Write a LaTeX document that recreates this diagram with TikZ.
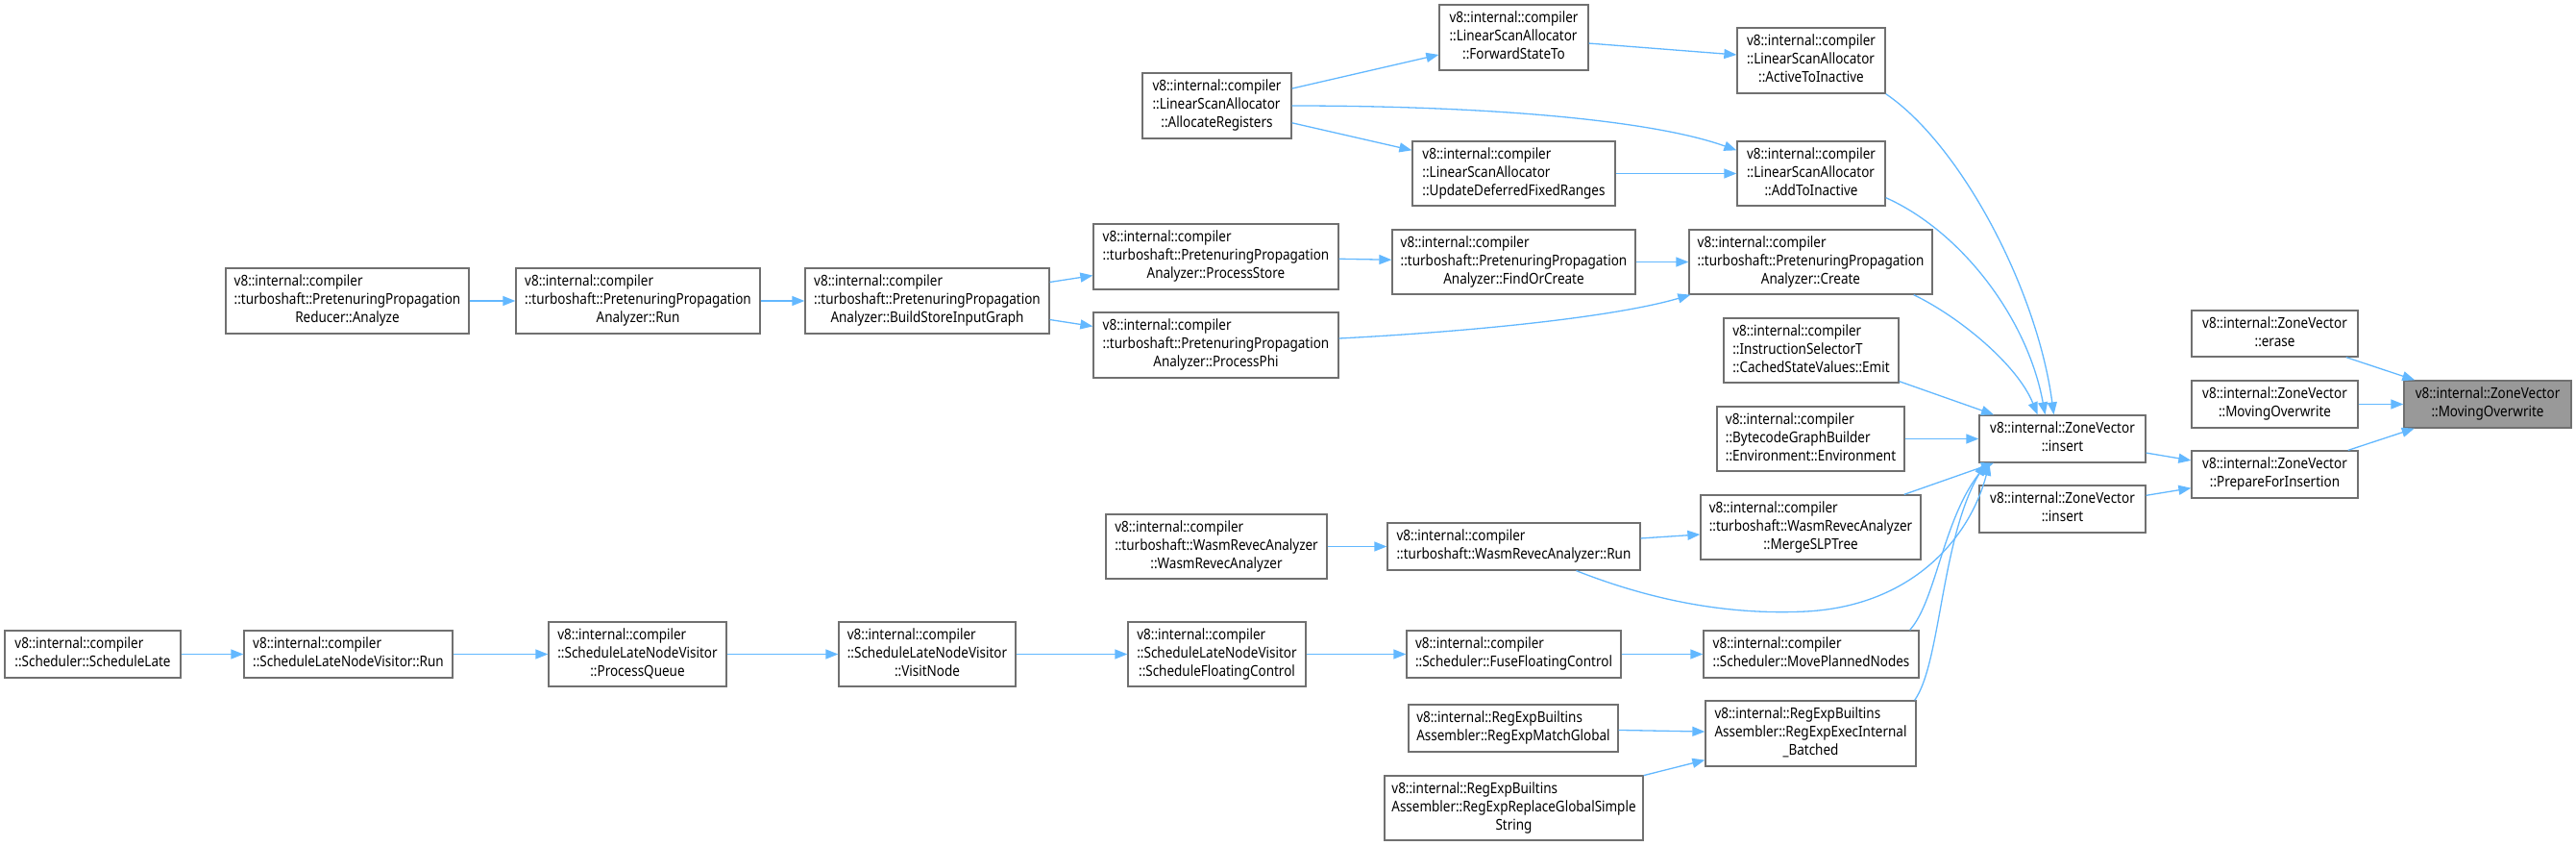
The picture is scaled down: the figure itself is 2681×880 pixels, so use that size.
\documentclass[tikz,border=0pt]{standalone}
\usepackage{fontspec}
\setmainfont{Noto Sans}[FakeStretch=0.87]
\usetikzlibrary{arrows.meta}
\definecolor{edgeblue}{HTML}{63B8FF}
\definecolor{boxline}{HTML}{707070}
\definecolor{tgtfill}{HTML}{999999}
\newcommand{\lab}[2]{\begin{tabular}{@{}l@{}}#1\\\multicolumn{1}{@{}c@{}}{#2}\end{tabular}}
\newcommand{\nb}[7][]{\node[box,#1,minimum width={((#4)-(#2))*1bp},minimum height={((#5)-(#3))*1bp}] (#6) at ({((#2)+(#4))/2},{((#3)+(#5))/2}) {#7};}
\begin{document}
\begin{tikzpicture}[x=1bp,y=-1bp,
  box/.style={draw=boxline,line width=1.3bp,fill=white,inner sep=0pt,font=\fontsize{15.5bp}{19bp}\selectfont},
  edge/.style={draw=edgeblue,line width=1.3bp,-{Triangle[length=13bp,width=10bp]}}]
\useasboundingbox (0,0) rectangle (2681,880);
% nodes
\nb[fill=tgtfill]{2502}{396}{2676}{445}{tgt}{\lab{v8::internal::ZoneVector}{::MovingOverwrite}}
\nb{2281}{323}{2454}{371}{erase}{\lab{v8::internal::ZoneVector}{::erase}}
\nb{2281}{396}{2454}{445}{mo}{\lab{v8::internal::ZoneVector}{::MovingOverwrite}}
\nb{2281}{469}{2454}{518}{pfi}{\lab{v8::internal::ZoneVector}{::PrepareForInsertion}}
\nb{2060}{432}{2233}{481}{ins}{\lab{v8::internal::ZoneVector}{::insert}}
\nb{2060}{505}{2233}{554}{insb}{\lab{v8::internal::ZoneVector}{::insert}}
\nb{1808}{29}{1962}{97}{ati}{\lab{v8::internal::compiler\\::LinearScanAllocator}{::ActiveToInactive}}
\nb{1808}{147}{1962}{214}{adi}{\lab{v8::internal::compiler\\::LinearScanAllocator}{::AddToInactive}}
\nb{1498}{5}{1653}{73}{fst}{\lab{v8::internal::compiler\\::LinearScanAllocator}{::ForwardStateTo}}
\nb{1189}{76}{1344}{144}{alr}{\lab{v8::internal::compiler\\::LinearScanAllocator}{::AllocateRegisters}}
\nb{1470}{147}{1681}{214}{udf}{\lab{v8::internal::compiler\\::LinearScanAllocator}{::UpdateDeferredFixedRanges}}
\nb{1758}{239}{2011}{306}{cre}{\lab{v8::internal::compiler\\::turboshaft::PretenuringPropagation}{Analyzer::Create}}
\nb{1449}{239}{1702}{306}{foc}{\lab{v8::internal::compiler\\::turboshaft::PretenuringPropagation}{Analyzer::FindOrCreate}}
\nb{1138}{233}{1393}{301}{pst}{\lab{v8::internal::compiler\\::turboshaft::PretenuringPropagation}{Analyzer::ProcessStore}}
\nb{1138}{325}{1393}{393}{pph}{\lab{v8::internal::compiler\\::turboshaft::PretenuringPropagation}{Analyzer::ProcessPhi}}
\nb{838}{279}{1092}{347}{bsg}{\lab{v8::internal::compiler\\::turboshaft::PretenuringPropagation}{Analyzer::BuildStoreInputGraph}}
\nb{537}{279}{791}{347}{prun}{\lab{v8::internal::compiler\\::turboshaft::PretenuringPropagation}{Analyzer::Run}}
\nb{235}{279}{488}{347}{ana}{\lab{v8::internal::compiler\\::turboshaft::PretenuringPropagation}{Reducer::Analyze}}
\nb{1794}{331}{1976}{398}{csv}{\lab{v8::internal::compiler\\::InstructionSelectorT}{::CachedStateValues::Emit}}
\nb{1787}{423}{1982}{490}{env}{\lab{v8::internal::compiler\\::BytecodeGraphBuilder}{::Environment::Environment}}
\nb{1770}{515}{1999}{582}{mst}{\lab{v8::internal::compiler\\::turboshaft::WasmRevecAnalyzer}{::MergeSLPTree}}
\nb{1151}{535}{1381}{602}{wra}{\lab{v8::internal::compiler\\::turboshaft::WasmRevecAnalyzer}{::WasmRevecAnalyzer}}
\nb{1444}{544}{1707}{593}{wrr}{\lab{v8::internal::compiler}{::turboshaft::WasmRevecAnalyzer::Run}}
\nb{1174}{647}{1359}{714}{sfc}{\lab{v8::internal::compiler\\::ScheduleLateNodeVisitor}{::ScheduleFloatingControl}}
\nb{1464}{656}{1687}{705}{ffc}{\lab{v8::internal::compiler}{::Scheduler::FuseFloatingControl}}
\nb{1773}{656}{1997}{705}{mpn}{\lab{v8::internal::compiler}{::Scheduler::MovePlannedNodes}}
\nb{1466}{733}{1684}{782}{rmg}{\lab{v8::internal::RegExpBuiltins}{Assembler::RegExpMatchGlobal}}
\nb{1775}{729}{1994}{797}{rei}{\lab{v8::internal::RegExpBuiltins\\Assembler::RegExpExecInternal}{\_Batched}}
\nb{1441}{807}{1710}{874}{rrg}{\lab{v8::internal::RegExpBuiltins\\Assembler::RegExpReplaceGlobalSimple}{String}}
\nb{5}{656}{188}{705}{sl}{\lab{v8::internal::compiler}{::Scheduler::ScheduleLate}}
\nb{254}{656}{471}{705}{slr}{\lab{v8::internal::compiler}{::ScheduleLateNodeVisitor::Run}}
\nb{571}{647}{756}{714}{pq}{\lab{v8::internal::compiler\\::ScheduleLateNodeVisitor}{::ProcessQueue}}
\nb{873}{647}{1057}{714}{vn}{\lab{v8::internal::compiler\\::ScheduleLateNodeVisitor}{::VisitNode}}
% edges
\draw[edge] (erase) -- (tgt);
\draw[edge] (mo) -- (tgt);
\draw[edge] (pfi) -- (tgt);
\draw[edge] (ins) -- (pfi);
\draw[edge] (insb) -- (pfi);
\draw[edge] (ati.south east) .. controls (2040,150) and (2120,300) .. ([xshift=-9bp]ins.north);
\draw[edge] ([yshift=9bp]adi.south east) .. controls (2040,240) and (2110,330) .. ([xshift=-18bp]ins.north);
\draw[edge] ([xshift=-20bp]cre.south east) .. controls (2040,330) and (2100,380) .. ([xshift=-26bp]ins.north);
\draw[edge] (csv) -- (ins);
\draw[edge] (env) -- (ins);
\draw[edge] (mst) -- (ins);
\draw[edge] ([xshift=65bp]wrr.south) .. controls (1720,625) and (1800,640) .. (1880,636) .. controls (1990,630) and (2050,560) .. ([xshift=-76bp]ins.south);
\draw[edge] ([xshift=-10bp]mpn.north east) .. controls (2015,625) and (2022,540) .. ([xshift=-78bp]ins.south);
\draw[edge] ([xshift=-2bp]rei.north east) .. controls (2020,690) and (2020,560) .. ([xshift=-80bp]ins.south);
\draw[edge] (fst) -- (ati);
\draw[edge] (alr) -- (fst);
\draw[edge] (alr.east) .. controls (1550,110) and (1720,125) .. ([yshift=-10bp]adi.north west);
\draw[edge] (alr) -- (udf);
\draw[edge] (udf) -- (adi);
\draw[edge] (foc) -- (cre);
\draw[edge] ([yshift=7bp]pph.east) .. controls (1530,345) and (1680,330) .. ([xshift=2bp]cre.south west);
\draw[edge] (pst) -- (foc);
\draw[edge] (bsg) -- (pst);
\draw[edge] (bsg) -- (pph);
\draw[edge] (prun) -- (bsg);
\draw[edge] (ana) -- (prun);
\draw[edge] (wrr) -- (mst);
\draw[edge] (wra) -- (wrr);
\draw[edge] (ffc) -- (mpn);
\draw[edge] (sfc) -- (ffc);
\draw[edge] (vn) -- (sfc);
\draw[edge] (pq) -- (vn);
\draw[edge] (slr) -- (pq);
\draw[edge] (sl) -- (slr);
\draw[edge] (rmg) -- (rei);
\draw[edge] (rrg) -- (rei);
\end{tikzpicture}
\end{document}
